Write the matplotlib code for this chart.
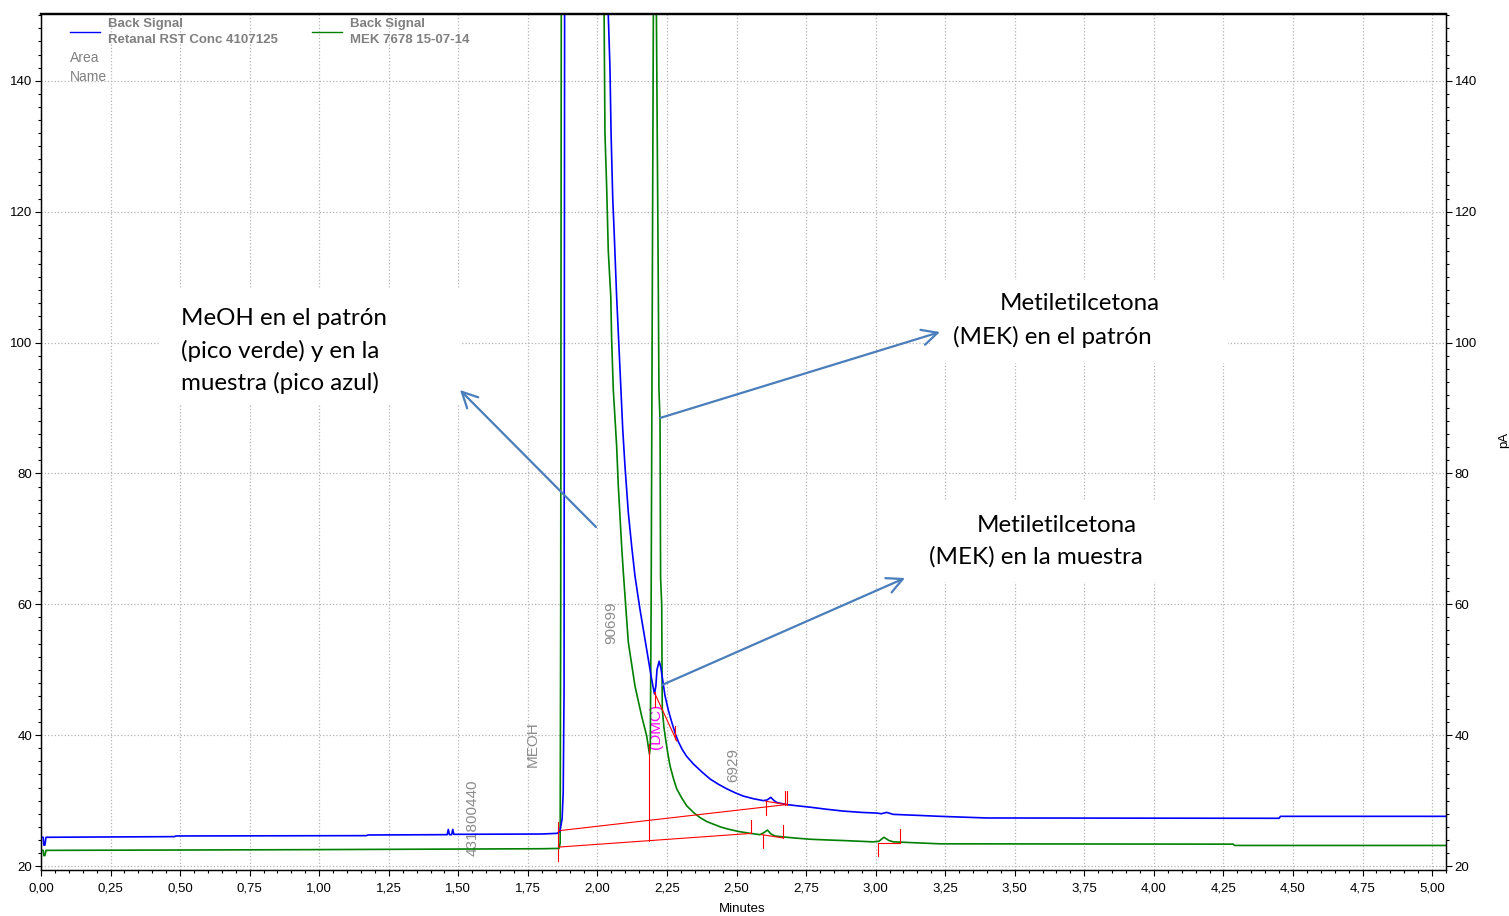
import matplotlib
matplotlib.use('Agg')
import matplotlib.pyplot as plt
from matplotlib.ticker import MultipleLocator, FuncFormatter
from matplotlib.patches import Rectangle
from matplotlib.lines import Line2D

W, H = 1509, 916

# sample signal (blue), minutes / pA
blue_t = [0.000, 0.008, 0.010, 0.014, 0.018, 0.480, 0.485, 1.170, 1.175, 1.460, 1.464, 1.468, 1.476, 1.480, 1.484,
          1.800, 1.855, 1.865, 1.873, 1.877, 1.880, 1.882, 1.950, 2.031, 2.039, 2.045, 2.049, 2.055, 2.060,
          2.069, 2.081, 2.091, 2.099, 2.111, 2.123, 2.135, 2.153, 2.177, 2.195, 2.205, 2.210, 2.214, 2.222,
          2.228, 2.236, 2.243, 2.255, 2.267, 2.280, 2.292, 2.305, 2.320, 2.345, 2.375, 2.405, 2.435, 2.465,
          2.495, 2.524, 2.560, 2.596, 2.610, 2.623, 2.635, 2.645, 2.680, 2.720, 2.764, 2.820, 2.884, 2.950,
          3.004, 3.020, 3.040, 3.063, 3.150, 3.231, 3.400, 4.450, 4.455, 5.050]
blue_v = [24.4, 24.4, 23.2, 23.2, 24.4, 24.5, 24.6, 24.65, 24.75, 24.8, 25.6, 24.8, 24.8, 25.6, 24.85,
          24.9, 25.0, 25.3, 27.2, 31.3, 46.6, 150.0, 2500.0, 180.0, 150.0, 142.0, 132.0, 122.0, 117.0,
          107.0, 96.0, 86.7, 81.1, 74.0, 68.9, 64.3, 59.2, 53.1, 48.5, 46.3, 47.5, 50.0, 51.3,
          50.3, 48.0, 46.0, 43.8, 42.0, 40.2, 38.9, 37.8, 36.8, 35.6, 34.4, 33.3, 32.5, 31.8,
          31.2, 30.7, 30.3, 30.0, 30.1, 30.5, 30.0, 29.7, 29.4, 29.2, 29.0, 28.7, 28.4, 28.2,
          28.1, 28.0, 28.2, 27.9, 27.75, 27.6, 27.35, 27.3, 27.6, 27.6]

# standard signal (green)
green_t = [0.000, 0.008, 0.010, 0.014, 0.018, 0.900, 1.800, 1.862, 1.866, 1.868, 1.870, 1.950, 2.022,
           2.024, 2.027, 2.033, 2.039, 2.048, 2.051, 2.057, 2.069, 2.075, 2.087, 2.093, 2.111, 2.135,
           2.159, 2.177, 2.187, 2.190, 2.193, 2.201, 2.206, 2.212, 2.219, 2.221, 2.225, 2.227, 2.231,
           2.233, 2.239, 2.245, 2.253, 2.261, 2.273, 2.285, 2.303, 2.321, 2.345, 2.369, 2.393, 2.417,
           2.441, 2.465, 2.505, 2.549, 2.584, 2.598, 2.611, 2.624, 2.638, 2.680, 2.720, 2.764, 2.820,
           2.884, 2.992, 3.012, 3.030, 3.048, 3.064, 3.231, 4.285, 4.290, 5.050]
green_v = [22.4, 22.4, 21.6, 21.6, 22.4, 22.5, 22.65, 22.7, 23.5, 60.0, 150.0, 3000.0, 160.0,
           150.0, 132.0, 124.0, 114.0, 107.0, 100.5, 92.8, 84.2, 78.1, 68.9, 64.9, 54.2, 47.5,
           42.9, 39.9, 37.1, 38.3, 60.0, 150.0, 3000.0, 150.0, 107.0, 93.0, 88.0, 64.0, 60.0,
           44.0, 41.2, 39.4, 37.2, 35.3, 33.4, 31.8, 30.4, 29.2, 28.2, 27.4, 26.8, 26.4,
           26.0, 25.7, 25.3, 25.0, 24.8, 25.1, 25.5, 24.9, 24.6, 24.4, 24.25, 24.1, 24.0,
           23.9, 23.7, 23.8, 24.4, 23.9, 23.7, 23.4, 23.35, 23.15, 23.15]

# integration baselines and peak marks (t0, v0, t1, v1)
red_segments = [
    (1.860, 25.4, 2.680, 29.4),
    (2.605, 29.9, 2.680, 29.4),
    (1.860, 22.9, 2.555, 25.0),
    (2.590, 24.8, 2.668, 24.3),
    (3.008, 23.6, 3.088, 23.6),
    (2.205, 46.5, 2.285, 39.1),
    (2.187, 23.9, 2.187, 38.6),
    (1.857, 23.1, 1.857, 26.7),
    (1.859, 20.8, 1.859, 22.6),
    (2.206, 44.3, 2.206, 46.6),
    (2.279, 39.4, 2.279, 41.4),
    (2.606, 27.8, 2.606, 29.95),
    (2.674, 29.4, 2.674, 31.5),
    (2.683, 29.4, 2.683, 31.5),
    (2.552, 25.0, 2.552, 27.0),
    (2.594, 22.7, 2.594, 24.7),
    (2.668, 24.3, 2.668, 26.3),
    (3.007, 21.6, 3.007, 23.6),
    (3.088, 23.6, 3.088, 25.6),
]

# peak labels (t, v, text, colour)
peak_labels = [
    (1.553, 21.6, '431800440', '#8c8c8c'),
    (1.768, 35.1, 'MEOH', '#8c8c8c'),
    (2.049, 53.9, '90699', '#8c8c8c'),
    (2.211, 37.9, '(DMC)', '#ff00ff'),
    (2.487, 32.8, '6929', '#8c8c8c'),
]


def fpx(x, y):
    # image pixel -> figure fraction
    return x / W, 1 - y / H


fig = plt.figure(figsize=(W / 100, H / 100), dpi=100)
ax = fig.add_axes([41 / W, 1 - 870 / H, (1446 - 41) / W, (870 - 14) / H])

ax.plot(green_t, green_v, color='#008000', lw=1.2, zorder=3)
ax.plot(blue_t, blue_v, color='#0000ff', lw=1.2, zorder=4)
for t0, v0, t1, v1 in red_segments:
    ax.plot([t0, t1], [v0, v1], color='#ff0000', lw=0.8, zorder=5)
for t, v, s, c in peak_labels:
    ax.text(t, v, s, rotation=90, ha='center', va='bottom', color=c,
            fontsize=11, family='Liberation Sans', zorder=2)

ax.set_xlim(0, 5.05)
ax.set_ylim(19.4, 150.2)
ax.xaxis.set_major_locator(MultipleLocator(0.25))
ax.xaxis.set_minor_locator(MultipleLocator(0.05))
ax.xaxis.set_major_formatter(FuncFormatter(lambda x, p: f'{x:.2f}'.replace('.', ',')))
ax.yaxis.set_major_locator(MultipleLocator(20))
ax.yaxis.set_minor_locator(MultipleLocator(2))
ax.grid(True, which='major', color='#b4b4b4', linestyle=':', lw=0.9, zorder=0)
ax.set_axisbelow(True)
ax.tick_params(which='major', direction='out', length=4.3, width=0.8, labelsize=9.5, pad=2)
ax.tick_params(which='minor', direction='out', length=2.3, width=0.8)
ax.tick_params(axis='x', pad=5)
for lab in ax.get_xticklabels() + ax.get_yticklabels():
    lab.set_family('Liberation Sans')
for sp in ax.spines.values():
    sp.set_linewidth(0.9)
ax.spines['top'].set_linewidth(1.6)

ax.set_xlabel('Minutes', fontsize=9.5, family='Liberation Sans')
ax.xaxis.set_label_coords(0.499, -0.039)

ax2 = ax.twinx()
ax2.set_ylim(19.4, 150.2)
ax2.yaxis.set_major_locator(MultipleLocator(20))
ax2.yaxis.set_minor_locator(MultipleLocator(2))
ax2.tick_params(which='major', direction='out', length=4.3, width=0.8, labelsize=9.5, pad=2)
ax2.tick_params(which='minor', direction='out', length=2.3, width=0.8)
for lab in ax2.get_yticklabels():
    lab.set_family('Liberation Sans')
ax2.set_ylabel('pA', fontsize=9.5, family='Liberation Sans')
ax2.yaxis.set_label_coords(1.0372, 0.502)
for sp in ax2.spines.values():
    sp.set_linewidth(0.9)
ax2.spines['top'].set_linewidth(1.6)

# legend block of the chromatography software
fig.add_artist(Line2D([70 / W, 100 / W], [1 - 32 / H] * 2, color='#0000ff', lw=1.0))
fig.add_artist(Line2D([312 / W, 342 / W], [1 - 32 / H] * 2, color='#008000', lw=1.0))
leg_kw = dict(fontsize=9.5, family='Liberation Sans', weight='bold', color='#808080', va='center')
fig.text(*fpx(108, 24), 'Back Signal', **leg_kw)
fig.text(*fpx(108, 40), 'Retanal RST Conc 4107125', **leg_kw)
fig.text(*fpx(350, 24), 'Back Signal', **leg_kw)
fig.text(*fpx(350, 40), 'MEK 7678 15-07-14', **leg_kw)
fig.text(*fpx(70, 58), 'Area', fontsize=10, family='Liberation Sans', color='#808080', va='center')
fig.text(*fpx(70, 77), 'Name', fontsize=10, family='Liberation Sans', color='#808080', va='center')

# white callout boxes
boxes = [(160, 288, 461, 405), (930, 280, 1228, 363), (905, 500, 1165, 582)]
for x0, y0, x1, y1 in boxes:
    ax.add_patch(Rectangle(fpx(x0, y1), (x1 - x0) / W, (y1 - y0) / H, transform=fig.transFigure,
                           facecolor='white', edgecolor='none', zorder=1))

note_kw = dict(fontsize=17.4, family='Lato', color='black', va='center')
fig.text(*fpx(181, 351), 'MeOH en el patrón\n(pico verde) y en la\nmuestra (pico azul)',
         ha='left', linespacing=1.55, **note_kw)
fig.text(*fpx(1080, 303), 'Metiletilcetona', ha='center', **note_kw)
fig.text(*fpx(1052, 337), '(MEK) en el patrón', ha='center', **note_kw)
fig.text(*fpx(1057, 525), 'Metiletilcetona', ha='center', **note_kw)
fig.text(*fpx(1036, 557), '(MEK) en la muestra', ha='center', **note_kw)

arrows = [((596, 527), (460, 390)), ((660, 418), (940, 332)), ((662, 685), (905, 578))]
for (tx, ty), (hx, hy) in arrows:
    ax.annotate('', xy=(hx, H - hy), xycoords='figure pixels', xytext=(tx, H - ty),
                textcoords='figure pixels',
                arrowprops=dict(arrowstyle='->', color='#4a7ebb', lw=1.6, mutation_scale=28,
                                shrinkA=0, shrinkB=0), zorder=6)

fig.savefig('out.png', dpi=100)
